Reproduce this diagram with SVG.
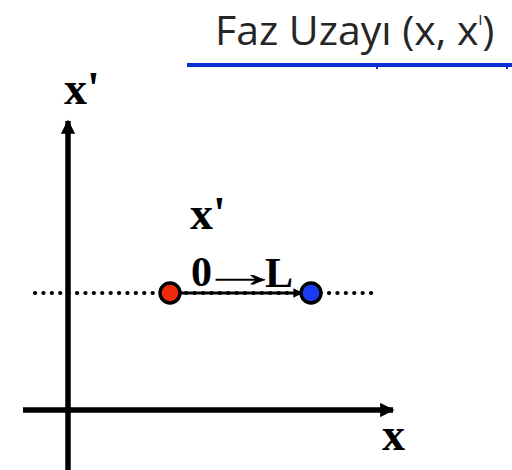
<svg xmlns="http://www.w3.org/2000/svg" width="512" height="470" viewBox="0 0 512 470">
<style>
.title{font-family:"Open Sans","Noto Sans","Liberation Sans",sans-serif;font-size:41px;fill:#262626}
.lbl{font-family:"Liberation Serif","DejaVu Serif",serif;font-weight:bold;fill:#000}
.axis{stroke:#000;stroke-width:5.5;fill:none}
</style>
<defs>
<marker id="ah" viewBox="0 0 10 10" refX="9" refY="5" markerWidth="3" markerHeight="2.6" markerUnits="strokeWidth" orient="auto">
<path d="M0,0 L10,5 L0,10 Z" fill="#000"/>
</marker>
<marker id="ah2" viewBox="0 0 10 10" refX="9" refY="5" markerWidth="4" markerHeight="3" markerUnits="strokeWidth" orient="auto">
<path d="M0,0 L10,5 L0,10 Z" fill="#000"/>
</marker>
</defs>
<g id="title">
<text class="title" x="215" y="45">Faz Uzayı (x, x<tspan font-size="22" dy="-13">ˡ</tspan><tspan dy="13">)</tspan></text>
<line x1="187" y1="65" x2="512" y2="65" stroke="#0a2fd2" stroke-width="4"/>
<rect x="376" y="66" width="2" height="3" fill="#0a2fd2"/>
<rect x="506" y="66" width="2" height="3" fill="#0a2fd2"/>
</g>
<g id="connectors">
<line class="axis" x1="68" y1="470" x2="68" y2="121" marker-end="url(#ah)"/>
<line class="axis" x1="23" y1="410" x2="393" y2="410" marker-end="url(#ah)"/>
<line x1="35" y1="293" x2="376" y2="293" stroke="#000" stroke-width="4.2" stroke-linecap="round" stroke-dasharray="0.1 8.3"/>
<line x1="170" y1="293" x2="302" y2="293" stroke="#000" stroke-width="3.2" marker-end="url(#ah2)"/>
</g>
<g id="label-xprime-axis"><text class="lbl" x="64" y="104" font-size="46">x'</text></g>
<g id="label-x-axis"><text class="lbl" x="382" y="450" font-size="46">x</text></g>
<g id="label-xprime"><text class="lbl" x="190" y="229" font-size="46">x'</text></g>
<g id="label-0L">
<text class="lbl" x="191" y="286" font-size="42">0<tspan x="199" dy="0" font-size="38" stroke="#000" stroke-width="0.5" textLength="82" lengthAdjust="spacingAndGlyphs">→</tspan><tspan x="265" dy="1">L</tspan></text>
</g>
<g id="point-red"><circle cx="170" cy="293" r="10" fill="#ee2a0c" stroke="#000" stroke-width="3.4"/></g>
<g id="point-blue"><circle cx="311" cy="293" r="10" fill="#1a3cf2" stroke="#000" stroke-width="3.4"/></g>
</svg>
